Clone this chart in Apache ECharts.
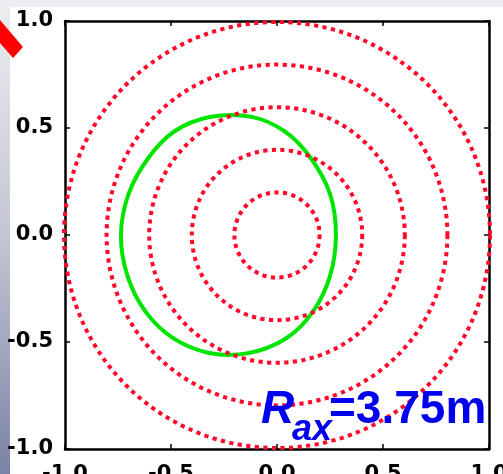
<!DOCTYPE html>
<html><head><meta charset="utf-8">
<script src="https://cdn.jsdelivr.net/npm/echarts@6/dist/echarts.min.js"></script>
<style>html,body{margin:0;padding:0;background:#fff}#c{width:503px;height:474px}</style>
</head><body><div id="c"></div>
<script>
// Tick labels
const xTickLabels = ['-1.0', '-0.5', '0.0', '0.5', '1.0'];
const yTickLabels = ['-1.0', '-0.5', '0.0', '0.5', '1.0'];
const tickValues = [-1, -0.5, 0, 0.5, 1];

// Red dotted circles (flux surfaces), centred at origin
const circleCenterX = 0;
const circleCenterY = 0;
const circleRadii = [0.2, 0.4, 0.6, 0.8, 1.0];

// Green closed contour (going counter-clockwise from the right edge)
const greenX = [0.278, 0.250, 0.159, 0.035, -0.125, -0.317, -0.483, -0.607, -0.700, -0.736, -0.705, -0.620, -0.490, -0.320, -0.135, 0.040, 0.168, 0.250];
const greenY = [0.000, 0.192, 0.360, 0.485, 0.553, 0.551, 0.485, 0.360, 0.192, 0.000, -0.192, -0.358, -0.482, -0.551, -0.552, -0.485, -0.360, -0.192];

// Annotation
const annoMain = 'R';
const annoSub = 'ax';
const annoRest = '=3.75m';

const chart = echarts.init(document.getElementById('c'), null, {renderer: 'canvas'});

function tickFmt(labels) {
  return function (v) {
    for (let i = 0; i < tickValues.length; i++) {
      if (Math.abs(v - tickValues[i]) < 1e-9) return labels[i];
    }
    return '';
  };
}

const labelFont = {fontFamily: 'DejaVu Sans', fontWeight: 'bold', fontSize: 21, color: '#000'};
const axLine = {show: true, onZero: false, lineStyle: {color: '#000', width: 2.5}};
const axTick = {show: true, inside: true, length: 5, lineStyle: {color: '#000', width: 1.5}};

const option = {
  animation: false,
  backgroundColor: '#fff',
  grid: {left: 65, right: 14, top: 21, bottom: 25, containLabel: false, outerBoundsMode: 'none'},
  xAxis: [
    {type: 'value', min: -1, max: 1, interval: 0.5, position: 'bottom',
      axisLine: axLine, axisTick: axTick, splitLine: {show: false},
      axisLabel: Object.assign({show: true, margin: 15, hideOverlap: false, formatter: tickFmt(xTickLabels)}, labelFont)},
    {type: 'value', min: -1, max: 1, interval: 0.5, position: 'top',
      axisLine: axLine, axisTick: axTick, splitLine: {show: false}, axisLabel: {show: false}}
  ],
  yAxis: [
    {type: 'value', min: -1, max: 1, interval: 0.5, position: 'left',
      axisLine: axLine, axisTick: axTick, splitLine: {show: false},
      axisLabel: Object.assign({show: true, margin: 12, hideOverlap: false,
        verticalAlignMinLabel: 'middle', verticalAlignMaxLabel: 'middle',
        formatter: tickFmt(yTickLabels)}, labelFont)},
    {type: 'value', min: -1, max: 1, interval: 0.5, position: 'right',
      axisLine: axLine, axisTick: axTick, splitLine: {show: false}, axisLabel: {show: false}}
  ],
  series: [
    {
      type: 'custom', xAxisIndex: 0, yAxisIndex: 0, clip: false, z: 2,
      encode: {x: 0, y: 1},
      data: greenX.map((x, i) => [x, greenY[i]]),
      renderItem: function (params, api) {
        if (params.dataIndex !== 0) return null;
        const p = greenX.map((x, i) => api.coord([x, greenY[i]]));
        const n = p.length;
        const children = [];
        for (let i = 0; i < n; i++) {
          const p0 = p[(i - 1 + n) % n], p1 = p[i], p2 = p[(i + 1) % n], p3 = p[(i + 2) % n];
          children.push({
            type: 'bezierCurve',
            shape: {
              x1: p1[0], y1: p1[1], x2: p2[0], y2: p2[1],
              cpx1: p1[0] + (p2[0] - p0[0]) / 6, cpy1: p1[1] + (p2[1] - p0[1]) / 6,
              cpx2: p2[0] - (p3[0] - p1[0]) / 6, cpy2: p2[1] - (p3[1] - p1[1]) / 6
            },
            style: {fill: 'none', stroke: '#00e400', lineWidth: 4, lineCap: 'round'}
          });
        }
        return {type: 'group', children: children};
      }
    },
    {
      type: 'custom', xAxisIndex: 0, yAxisIndex: 0, clip: false, z: 3,
      encode: {x: 0, y: 1},
      data: circleRadii.map(r => [circleCenterX, circleCenterY, r]),
      renderItem: function (params, api) {
        const c = api.coord([api.value(0), api.value(1)]);
        const s = api.size([api.value(2), api.value(2)]);
        return {
          type: 'circle',
          shape: {cx: c[0], cy: c[1], r: (s[0] + s[1]) / 2},
          style: {fill: 'none', stroke: '#ff0a2a', lineWidth: 4, lineDash: [4.2, 4.4], lineCap: 'butt'}
        };
      }
    }
  ],
  graphic: [
    {type: 'rect', z: -10, shape: {x: 0, y: 0, width: 503, height: 7}, style: {fill: '#eceef1'}},
    {type: 'rect', z: -9, shape: {x: 0, y: 0, width: 10, height: 474},
      style: {fill: new echarts.graphic.LinearGradient(0, 0, 0, 1, [
        {offset: 0, color: '#eceef1'}, {offset: 0.5, color: '#c3c6d3'}, {offset: 1, color: '#7c82a6'}])}},
    {type: 'polygon', z: 5, shape: {points: [[0, 20], [23, 47], [13, 58], [0, 43]]}, style: {fill: '#ff0000'}},
    {type: 'text', z: 10, style: {text: annoMain, x: 261, y: 410, font: 'italic bold 46px "Liberation Sans"', fill: '#0000ee', align: 'left', verticalAlign: 'middle'}},
    {type: 'text', z: 10, style: {text: annoSub, x: 292, y: 430, font: 'italic bold 36px "Liberation Sans"', fill: '#0000ee', align: 'left', verticalAlign: 'middle'}},
    {type: 'text', z: 10, style: {text: annoRest, x: 329, y: 410, font: 'bold 46px "Liberation Sans"', fill: '#0000ee', align: 'left', verticalAlign: 'middle'}}
  ]
};
chart.setOption(option);
</script>
</body></html>
